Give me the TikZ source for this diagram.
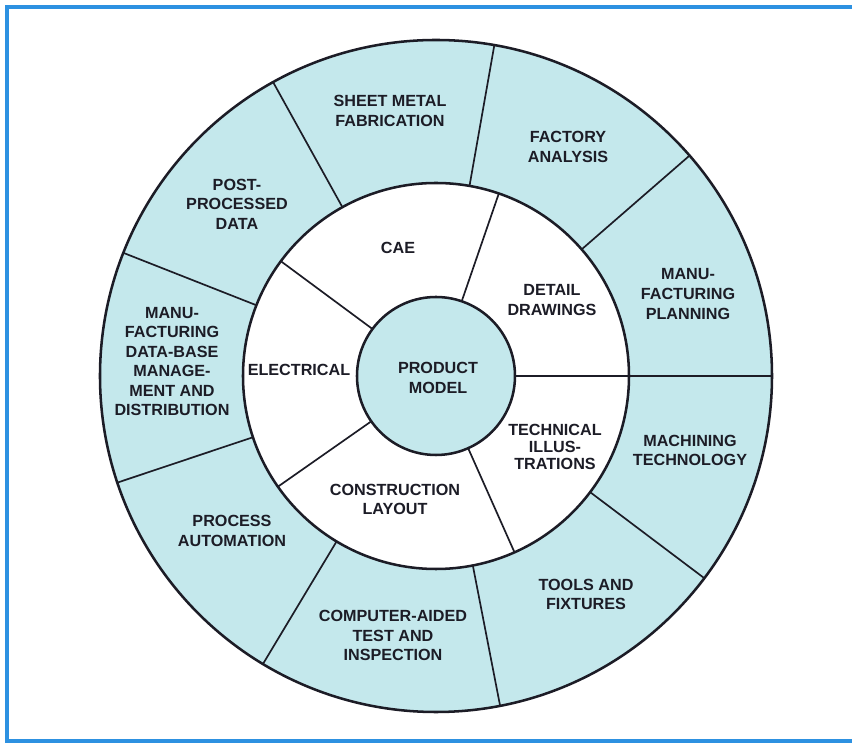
\documentclass[tikz,border=0pt]{standalone}
\usepackage{fontspec}
\setmainfont{Liberation Sans}
\usepackage{tikz}
\definecolor{ringblue}{RGB}{196,232,236}
\definecolor{frameblue}{RGB}{45,145,225}
\definecolor{inkcol}{RGB}{28,28,38}

\begin{document}
\begin{tikzpicture}[line join=round,
  lbl/.style={text=inkcol, align=center, inner sep=1pt,
    font=\bfseries\fontsize{11.5}{13.9}\selectfont}]
  \useasboundingbox (-10.9,-9.225) rectangle (10.4,9.4);
  \fill[white] (-10.9,-9.225) rectangle (10.4,9.4);
  \draw[frameblue, line width=0.1cm, line join=miter]
    (10.5,9.2125) -- (-10.725,9.2125) -- (-10.725,-9.1375) -- (10.5,-9.1375);
  % three rings: outer 9 sectors, middle 5 sectors, centre disk
  \fill[ringblue] (0,0) circle (8.4);
  \fill[white] (0,0) circle (4.825);
  \fill[ringblue] (0,0) circle (1.975);
  \foreach \a in {119,80,41,0,-37,-79,-121,198.5,158.5}
    \draw[inkcol, line width=1.2pt] (\a:4.825) -- (\a:8.4);
  \foreach \a in {143.5,71,0,-66,215}
    \draw[inkcol, line width=1.2pt] (\a:1.975) -- (\a:4.825);
  \draw[inkcol, line width=1.8pt] (0,0) circle (8.4);
  \draw[inkcol, line width=1.8pt] (0,0) circle (4.825);
  \draw[inkcol, line width=1.8pt] (0,0) circle (1.975);

  \node[lbl] (model)   at (0.05,-0.05)   {PRODUCT\\MODEL};
  \node[lbl] (cae)     at (-0.95,3.2)    {CAE};
  \node[lbl] (detail)  at (2.9,1.9)      {DETAIL\\DRAWINGS};
  \node[lbl, text depth=0pt, execute at begin node=\setlength{\baselineskip}{12.2pt}]
             (techill) at (2.975,-1.775) {TECHNICAL\\ILLUS-\\TRATIONS};
  \node[lbl] (constr)  at (-1.025,-3.0875) {CONSTRUCTION\\LAYOUT};
  \node[lbl] (elec)    at (-3.425,0.15)  {ELECTRICAL};

  \node[lbl] (sheet)   at (-1.15,6.625)  {SHEET METAL\\FABRICATION};
  \node[lbl] (factory) at (3.3,5.725)    {FACTORY\\ANALYSIS};
  \node[lbl] (mfgplan) at (6.3,2.05)     {MANU-\\FACTURING\\PLANNING};
  \node[lbl] (machin)  at (6.35,-1.8625) {MACHINING\\TECHNOLOGY};
  \node[lbl] (tools)   at (3.75,-5.4625) {TOOLS AND\\FIXTURES};
  \node[lbl] (cat)     at (-1.075,-6.4875) {COMPUTER-AIDED\\TEST AND\\INSPECTION};
  \node[lbl] (procaut) at (-5.1,-3.875)  {PROCESS\\AUTOMATION};
  \node[lbl] (mfgdb)   at (-6.6,0.3625)  {MANU-\\FACTURING\\DATA-BASE\\MANAGE-\\MENT AND\\DISTRIBUTION};
  \node[lbl] (postpr)  at (-4.975,4.3)   {POST-\\PROCESSED\\DATA};
\end{tikzpicture}
\end{document}
